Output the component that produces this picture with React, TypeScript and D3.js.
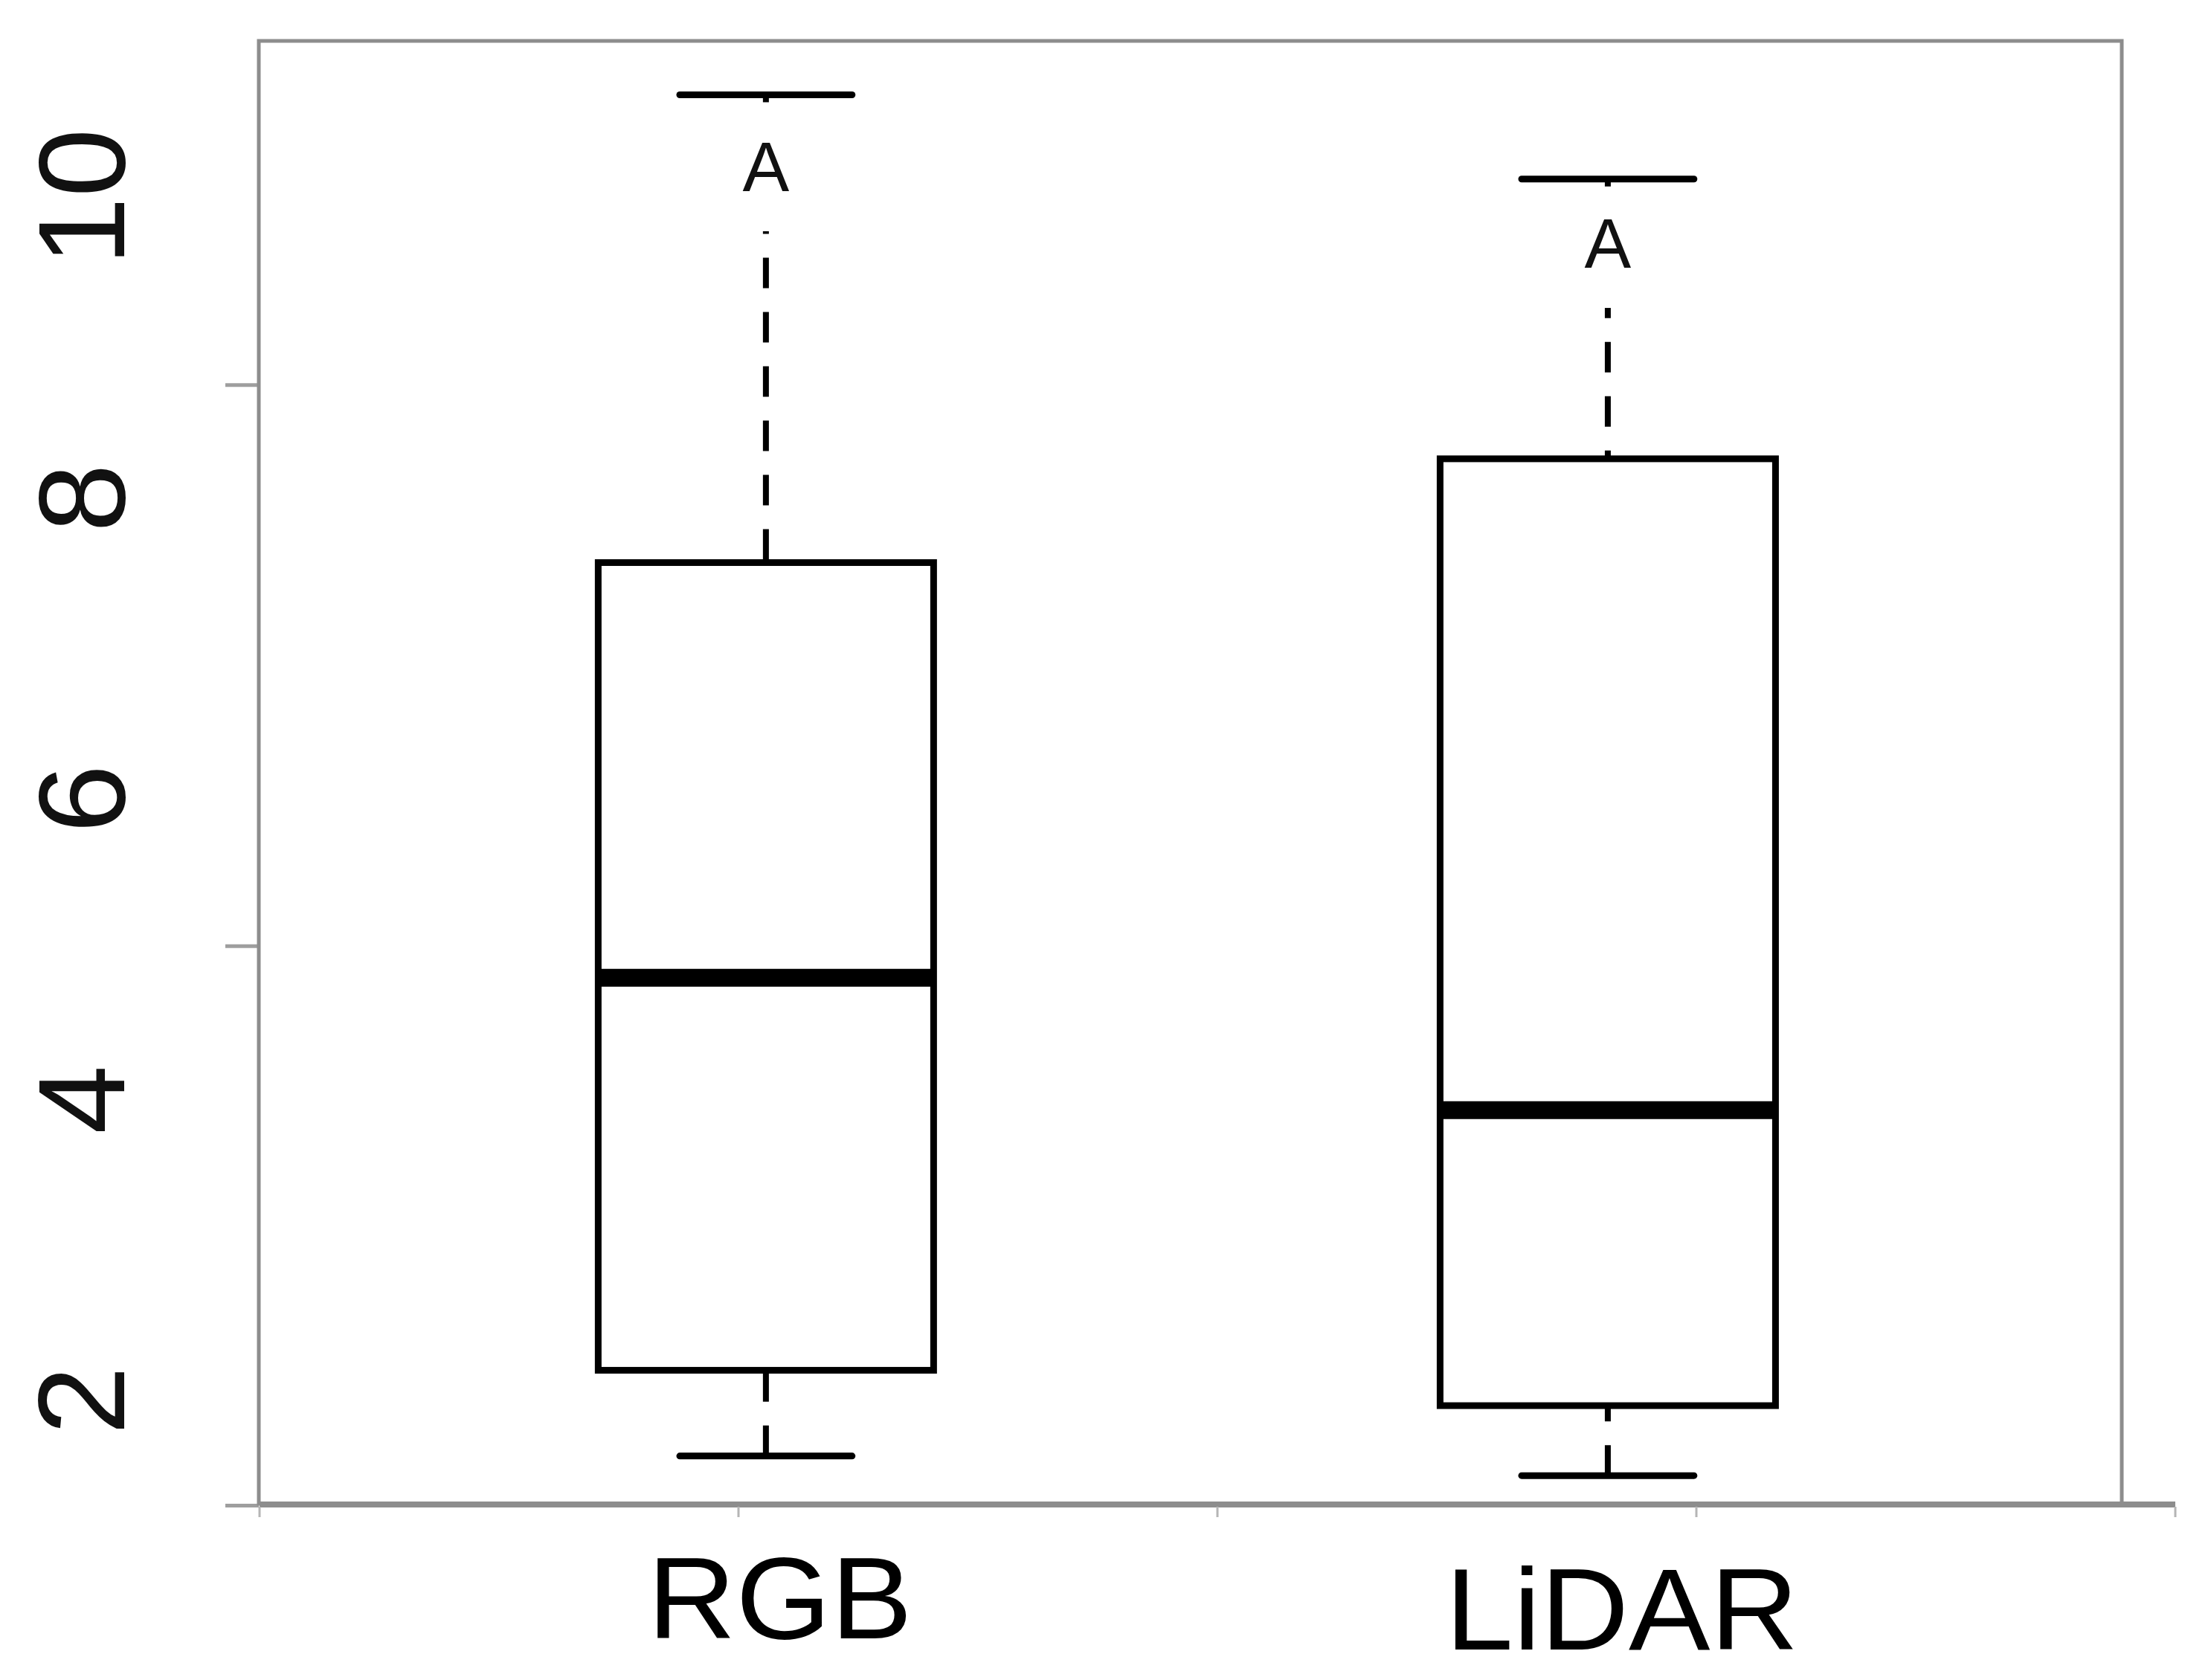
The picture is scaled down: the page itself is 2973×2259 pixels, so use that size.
import React from "react";
import * as d3 from "d3";

const categories = ["RGB", "LiDAR"];
const whiskerLow = [1.63, 1.5];
const q1 = [2.2, 1.965];
const medians = [4.81, 3.93];
const q3 = [7.57, 8.26];
const whiskerHigh = [10.68, 10.12];
const groupLetters = ["A", "A"];
const letterBaselines = [10.04, 9.53];
const yTickLabels = [2, 4, 6, 8, 10];
const yFrameTicks = [1.3, 5.02, 8.75];
const xFrameTicks = [0, 1, 2, 3, 4];

const W = 2973;
const H = 2259;
const frame = { left: 348, right: 2853, top: 55, bottom: 2022 };
const FONT = "'Liberation Sans', Arial, Helvetica, sans-serif";

export default function App() {
  const y = d3.scaleLinear().domain([2, 10]).range([1883, 265]);
  const x = d3
    .scaleBand<string>()
    .domain(categories)
    .range([frame.left, frame.right])
    .paddingInner(0.6016)
    .paddingOuter(0.4072)
    .align(0.495);
  const xAxis = d3.scaleLinear().domain([0, 4]).range([349, 2925]);
  const bw = x.bandwidth();
  const capHalf = bw * 0.257;
  const gray = "#8d8d8d";

  return (
    <svg
      width={W}
      height={H}
      style={{ position: "absolute", left: 0, top: 0, background: "#fff" }}
    >
      <rect x={0} y={0} width={W} height={H} fill="#fff" />
      <rect
        x={frame.left}
        y={frame.top}
        width={frame.right - frame.left}
        height={frame.bottom - frame.top}
        fill="none"
        stroke={gray}
        strokeWidth={5}
      />
      {yFrameTicks.map((t, i) => (
        <line
          key={"yt" + i}
          x1={303}
          x2={frame.left}
          y1={y(t)}
          y2={y(t)}
          stroke={gray}
          strokeOpacity={0.85}
          strokeWidth={5}
        />
      ))}
      <line
        x1={xAxis(0)}
        x2={xAxis(4)}
        y1={frame.bottom + 1}
        y2={frame.bottom + 1}
        stroke={gray}
        strokeWidth={8}
      />
      {xFrameTicks.map((t, i) => (
        <line
          key={"xt" + i}
          x1={xAxis(t)}
          x2={xAxis(t)}
          y1={frame.bottom + 4}
          y2={frame.bottom + 18}
          stroke="#b5b5b5"
          strokeWidth={3}
        />
      ))}
      {yTickLabels.map((t) => (
        <text
          key={"yl" + t}
          transform={`translate(167,${y(t)}) rotate(-90)`}
          textAnchor="middle"
          fontFamily={FONT}
          fontSize={166}
          fill="#111"
        >
          {t}
        </text>
      ))}
      {categories.map((c, i) => {
        const cx = (x(c) as number) + bw / 2;
        const x0 = x(c) as number;
        const capY = y(whiskerHigh[i]);
        const base = y(letterBaselines[i]);
        return (
          <g key={c}>
            <line
              x1={cx}
              x2={cx}
              y1={capY}
              y2={y(q3[i])}
              stroke="#000"
              strokeWidth={8}
              strokeDasharray="41 32"
            />
            <line
              x1={cx}
              x2={cx}
              y1={y(whiskerLow[i])}
              y2={y(q1[i])}
              stroke="#000"
              strokeWidth={8}
              strokeDasharray="41 32"
            />
            <rect
              x={cx - 50}
              y={capY + 10}
              width={100}
              height={base + 54 - (capY + 10)}
              fill="#fff"
            />
            <line
              x1={cx - capHalf}
              x2={cx + capHalf}
              y1={capY}
              y2={capY}
              stroke="#000"
              strokeWidth={9}
              strokeLinecap="round"
            />
            <line
              x1={cx - capHalf}
              x2={cx + capHalf}
              y1={y(whiskerLow[i])}
              y2={y(whiskerLow[i])}
              stroke="#000"
              strokeWidth={9}
              strokeLinecap="round"
            />
            <rect
              x={x0}
              y={y(q3[i])}
              width={bw}
              height={y(q1[i]) - y(q3[i])}
              fill="#fff"
              stroke="#000"
              strokeWidth={9}
            />
            <line
              x1={x0}
              x2={x0 + bw}
              y1={y(medians[i])}
              y2={y(medians[i])}
              stroke="#000"
              strokeWidth={24}
            />
            <text
              x={cx}
              y={base}
              textAnchor="middle"
              fontFamily={FONT}
              fontSize={94}
              fill="#111"
            >
              {groupLetters[i]}
            </text>
            <text
              transform={`translate(${cx + 19},${i === 0 ? 2203 : 2218}) scale(1.06,1)`}
              textAnchor="middle"
              fontFamily={FONT}
              fontSize={155}
              fill="#000"
            >
              {c}
            </text>
          </g>
        );
      })}
    </svg>
  );
}
